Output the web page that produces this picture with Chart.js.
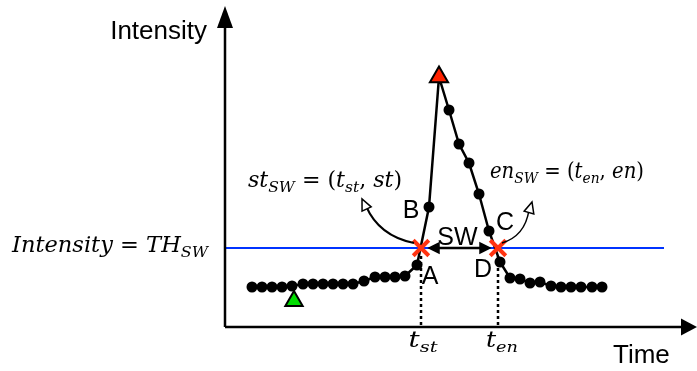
<!DOCTYPE html>
<html>
<head>
<meta charset="utf-8">
<script src="https://cdn.jsdelivr.net/npm/chart.js@4/dist/chart.umd.min.js"></script>
<style>
html,body{margin:0;padding:0;background:#fff;}
canvas{display:block;}
</style>
</head>
<body>
<canvas id="c" width="697" height="371"></canvas>
<script>
// ---- data (time / intensity, arbitrary units) ----
const timeValues = [27,37,47,57,67,78,88,98,108,118,128,139,150,160,170,180,192,204,214,224,234,244,254,264,275,285,295,305,315,326,336,346,356,367,377];
const intensityValues = [40,40,40,40,41,43,43,43,43,43,43,46,50,50,50,51,62,120,250,217,183,164,133,96,65,49,48,44,45,41,40,40,40,40,40];
const crossTimes = [196, 273];          // t_st, t_en
const threshold = 79;                    // TH_SW
const thresholdRange = [0, 439];
const valleyTime = [69];
const valleyIntensity = [26];
const pointLabels = ['A','B','C','D'];
const xTitle = 'Time';
const yTitle = 'Intensity';

const peakIdx = intensityValues.indexOf(Math.max(...intensityValues));
const mainData = timeValues.map((t,i)=>({x:t,y:intensityValues[i]}));

const SANS = '"Liberation Sans", Arial, sans-serif';
const SERIF = '"DejaVu Serif", serif';

function mathText(ctx, parts, x, y, align, targetW){
  const main = 22, sub = 15.5;
  const fonts = {
    i: `italic ${main}px ${SERIF}`,
    r: `${main}px ${SERIF}`,
    si: `italic ${sub}px ${SERIF}`
  };
  let total = 0;
  const w = parts.map(p=>{ctx.font=fonts[p[1]]; const m=ctx.measureText(p[0]).width; total+=m; return m;});
  const k = targetW ? targetW/total : 1;
  const tw = total*k;
  let sx0 = align==='right' ? x-tw : align==='center' ? x-tw/2 : x;
  ctx.save();
  ctx.translate(sx0, 0);
  ctx.scale(k, 1);
  ctx.fillStyle = '#000';
  ctx.textAlign = 'left';
  ctx.textBaseline = 'alphabetic';
  let cx = 0;
  parts.forEach((p,i)=>{
    ctx.font = fonts[p[1]];
    ctx.fillText(p[0], cx, p[1]==='si' ? y+5 : y);
    cx += w[i];
  });
  ctx.restore();
}

function arrowHead(ctx, tipX, tipY, fromX, fromY, len, half, fill){
  const a = Math.atan2(tipY-fromY, tipX-fromX);
  const bx = tipX - Math.cos(a)*len, by = tipY - Math.sin(a)*len;
  ctx.beginPath();
  ctx.moveTo(tipX, tipY);
  ctx.lineTo(bx + Math.sin(a)*half, by - Math.cos(a)*half);
  ctx.lineTo(bx - Math.sin(a)*half, by + Math.cos(a)*half);
  ctx.closePath();
  ctx.fillStyle = fill;
  ctx.fill();
  ctx.lineWidth = 1.5;
  ctx.strokeStyle = '#000';
  ctx.stroke();
}

const annot = {
  id: 'annot',
  beforeDatasetsDraw(chart){
    const ctx = chart.ctx, xs = chart.scales.x, ys = chart.scales.y;
    ctx.save();
    ctx.strokeStyle = '#000';
    ctx.lineWidth = 2.5;
    ctx.setLineDash([3,3]);
    crossTimes.forEach(t=>{
      const px = xs.getPixelForValue(t);
      ctx.beginPath();
      ctx.moveTo(px, ys.getPixelForValue(threshold)+8);
      ctx.lineTo(px, ys.getPixelForValue(0));
      ctx.stroke();
    });
    ctx.restore();
  },
  afterDraw(chart){
    const ctx = chart.ctx, xs = chart.scales.x, ys = chart.scales.y;
    const ox = xs.getPixelForValue(0), oy = ys.getPixelForValue(0);
    const right = xs.right, top = ys.top;
    ctx.save();
    // axes
    ctx.strokeStyle = '#000'; ctx.lineWidth = 2.5;
    ctx.beginPath(); ctx.moveTo(ox, oy); ctx.lineTo(ox, top+20); ctx.stroke();
    ctx.beginPath(); ctx.moveTo(ox, oy); ctx.lineTo(right-14, oy); ctx.stroke();
    ctx.fillStyle = '#000';
    ctx.beginPath(); ctx.moveTo(ox, top+1); ctx.lineTo(ox-8, top+23); ctx.lineTo(ox+8, top+23); ctx.closePath(); ctx.fill();
    ctx.beginPath(); ctx.moveTo(right, oy); ctx.lineTo(right-16, oy-8.5); ctx.lineTo(right-16, oy+8.5); ctx.closePath(); ctx.fill();

    // axis titles
    ctx.font = `26px ${SANS}`;
    ctx.textBaseline = 'alphabetic';
    ctx.textAlign = 'right';
    ctx.fillText(yTitle, ox-18, top+34);
    ctx.textAlign = 'left';
    ctx.fillText(xTitle, 613, oy+36);

    const ty = ys.getPixelForValue(threshold);
    const sx = xs.getPixelForValue(crossTimes[0]);
    const ex = xs.getPixelForValue(crossTimes[1]);

    // SW double arrow
    ctx.strokeStyle = '#000'; ctx.lineWidth = 2.5;
    ctx.beginPath(); ctx.moveTo(sx+14, ty); ctx.lineTo(ex-14, ty); ctx.stroke();
    arrowHead(ctx, sx+8, ty, sx+20, ty, 10, 5, '#000');
    arrowHead(ctx, ex-8, ty, ex-20, ty, 10, 5, '#000');

    ctx.font = `25px ${SANS}`;
    ctx.fillStyle = '#000';
    ctx.textAlign = 'center';
    ctx.fillText('SW', (sx+ex)/2 - 2, ty-3);

    // point letters
    const bx = xs.getPixelForValue(timeValues[17]), by = ys.getPixelForValue(intensityValues[17]);
    const cxp = xs.getPixelForValue(timeValues[23]), cyp = ys.getPixelForValue(intensityValues[23]);
    ctx.fillText(pointLabels[0], sx+9, ty+36);
    ctx.fillText(pointLabels[1], bx-18, by+11);
    ctx.fillText(pointLabels[2], cxp+16, cyp-1);
    ctx.fillText(pointLabels[3], ex-15, ty+29);

    // curved arrows
    ctx.lineWidth = 2;
    ctx.strokeStyle = '#000';
    ctx.beginPath(); ctx.moveTo(sx-7, ty-5); ctx.quadraticCurveTo(sx-42, ty-12, sx-55, ty-42); ctx.stroke();
    arrowHead(ctx, sx-59, ty-49, sx-53, ty-36, 11, 5, '#fff');
    ctx.beginPath(); ctx.moveTo(ex+4, ty-5); ctx.quadraticCurveTo(ex+27, ty-12, ex+31, ty-38); ctx.stroke();
    arrowHead(ctx, ex+34, ty-46, ex+30, ty-32, 11, 5, '#fff');

    // math labels
    mathText(ctx, [['Intensity','i'],[' = ','r'],['TH','i'],['SW','si']], 12, ty+4, 'left', 196);
    mathText(ctx, [['st','i'],['SW','si'],[' = (','r'],['t','i'],['st','si'],[', ','r'],['st','i'],[')','r']], 248, ty-61, 'left', 154);
    mathText(ctx, [['en','i'],['SW','si'],[' = (','r'],['t','i'],['en','si'],[', ','r'],['en','i'],[')','r']], 490, ty-70, 'left', 154);
    mathText(ctx, [['t','i'],['st','si']], sx+2, oy+20, 'center', 29);
    mathText(ctx, [['t','i'],['en','si']], ex+4, oy+20, 'center', 32);
    ctx.restore();
  }
};

new Chart(document.getElementById('c'), {
  type: 'scatter',
  data: {
    datasets: [
      { label:'crossings', data: crossTimes.map(t=>({x:t,y:threshold})), showLine:false,
        pointStyle:'crossRot', pointRadius:11, borderColor:'#ff3311', borderWidth:4, order:1 },
      { label:'peak', data:[mainData[peakIdx]], showLine:false, pointStyle:'triangle', pointRadius:10.5,
        backgroundColor:'#ff2200', borderColor:'#000', borderWidth:2, order:1 },
      { label:'valley', data: valleyTime.map((t,i)=>({x:t,y:valleyIntensity[i]})), showLine:false,
        pointStyle:'triangle', pointRadius:10, backgroundColor:'#00dd00', borderColor:'#000', borderWidth:2, order:1 },
      { label:'intensity', data: mainData, showLine:true, borderColor:'#000', borderWidth:2.5,
        backgroundColor:'#000', pointBackgroundColor:'#000', pointBorderWidth:0,
        pointRadius: ctx => ctx.dataIndex===peakIdx ? 0 : 5.5, tension:0, order:3 },
      { label:'threshold', data: thresholdRange.map(t=>({x:t,y:threshold})), showLine:true,
        borderColor:'#0033ff', borderWidth:2, pointRadius:0, order:5 }
    ]
  },
  options: {
    responsive:false, animation:false, devicePixelRatio:1,
    layout:{ autoPadding:false, padding:{ left:225, right:0, top:5, bottom:44 } },
    scales:{
      x:{ type:'linear', display:false, min:0, max:472 },
      y:{ type:'linear', display:false, min:0, max:322 }
    },
    plugins:{ legend:{display:false}, tooltip:{enabled:false} },
    clip:false
  },
  plugins:[annot]
});
</script>
</body>
</html>
